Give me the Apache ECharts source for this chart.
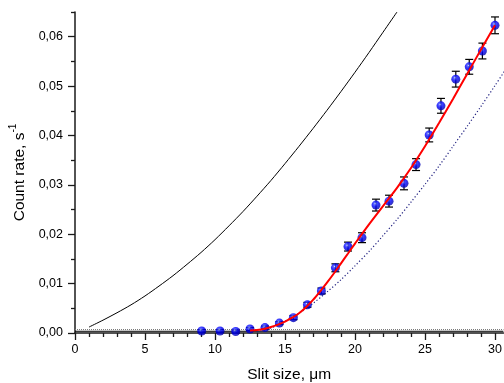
<!DOCTYPE html>
<html><head><meta charset="utf-8">
<script src="https://cdn.jsdelivr.net/npm/echarts@6/dist/echarts.min.js"></script>
<style>html,body{margin:0;padding:0;background:#fff}#c{width:504px;height:383px}</style>
</head><body><div id="c"></div>
<script>
// Measured data points (slit size, count rate) with errors
const ptX = [9.05, 10.36, 11.48, 12.5, 13.57, 14.6, 15.6, 16.6, 17.6, 18.6, 19.5, 20.5, 21.5, 22.43, 23.5, 24.36, 25.3, 26.14, 27.2, 28.16, 29.1, 30.0];
const ptY = [0.0004, 0.0004, 0.0003, 0.0008, 0.0011, 0.0020, 0.0031, 0.0057, 0.0085, 0.0132, 0.0175, 0.0193, 0.0259, 0.0267, 0.0303, 0.0341, 0.0401, 0.0460, 0.0514, 0.0539, 0.0571, 0.0623];
const ptErr = [0.0003, 0.0003, 0.0003, 0.0003, 0.0003, 0.0003, 0.0004, 0.0005, 0.0006, 0.0008, 0.0009, 0.0010, 0.0012, 0.0012, 0.0013, 0.0012, 0.0014, 0.0015, 0.0016, 0.0015, 0.0016, 0.0017];

// Red fit curve
const fitX = [12.5, 13, 13.5, 14, 14.5, 15, 15.5, 16, 16.5, 17, 17.5, 18, 18.5, 19, 19.5, 20, 21, 22, 23, 24, 25, 26, 27, 28, 29, 30];
const fitY = [0.0005, 0.0006, 0.0008, 0.0012, 0.0017, 0.0023, 0.0031, 0.0040, 0.0052, 0.0067, 0.0084, 0.0102, 0.0121, 0.0141, 0.0161, 0.0181, 0.0220, 0.0257, 0.0294, 0.0334, 0.0378, 0.0425, 0.0474, 0.0524, 0.0574, 0.0623];

// Black solid curve
const blackX = [1, 2, 3, 4, 5, 6, 7, 8, 9, 10, 11, 12, 13, 14, 15, 16, 17, 18, 19, 20, 21, 22, 23];
const blackY = [0.0012, 0.0026, 0.0041, 0.0057, 0.0075, 0.0095, 0.0116, 0.0139, 0.0163, 0.0189, 0.0217, 0.0246, 0.0277, 0.0309, 0.0343, 0.0378, 0.0414, 0.0451, 0.0489, 0.0528, 0.0568, 0.0609, 0.0650];

// Blue dotted curve
const dotX = [13, 14, 15, 16, 17, 18, 19, 20, 21, 22, 23, 24, 25, 26, 27, 28, 29, 30, 31];
const dotY = [0.0002, 0.0010, 0.0024, 0.0040, 0.0060, 0.0083, 0.0108, 0.0136, 0.0165, 0.0197, 0.0230, 0.0265, 0.0301, 0.0338, 0.0378, 0.0418, 0.0459, 0.0501, 0.0544];

// Background levels
const baseX = [0, 30.6];
const baseSolidY = 0.00035;
const baseDotY = 0.0007;

// Axis ticks
const xMajor = [0, 5, 10, 15, 20, 25, 30];
const xMinor = [1, 2, 3, 4, 6, 7, 8, 9, 11, 12, 13, 14, 16, 17, 18, 19, 21, 22, 23, 24, 26, 27, 28, 29];
const yMajor = [0, 0.01, 0.02, 0.03, 0.04, 0.05, 0.06];
const yMinor = [0.005, 0.015, 0.025, 0.035, 0.045, 0.055, 0.065];

const zip = (a, b) => a.map((v, i) => [v, b[i]]);
const FONT = 'Liberation Sans, Arial, sans-serif';
const AX = '#1a1a1a';

const chart = echarts.init(document.getElementById('c'), null, {renderer: 'canvas'});
const xBase = {type: 'value', min: 0, max: 30.6, gridIndex: 0, splitLine: {show: false}};
const yBase = {type: 'value', min: 0, max: 0.065, gridIndex: 0, splitLine: {show: false}};

chart.setOption({
  animation: false,
  backgroundColor: '#fff',
  grid: {left: 75, right: 0.6, top: 12, bottom: 50, containLabel: false, outerBoundsMode: 'none'},
  xAxis: [
    Object.assign({}, xBase, {
      position: 'bottom',
      axisLine: {show: true, lineStyle: {color: AX, width: 1.5}},
      axisTick: {show: true, inside: false, length: 7, customValues: xMajor, lineStyle: {color: AX, width: 1.3}},
      axisLabel: {customValues: xMajor, margin: 10, fontSize: 12.5, color: '#000', fontFamily: FONT},
      name: 'Slit size, \u03bcm', nameLocation: 'middle', nameGap: 34,
      nameTextStyle: {fontSize: 15.5, color: '#000', fontFamily: FONT}
    }),
    Object.assign({}, xBase, {
      position: 'bottom',
      axisLine: {show: false},
      axisTick: {show: true, inside: false, length: 4, customValues: xMinor, lineStyle: {color: AX, width: 1.3}},
      axisLabel: {show: false}
    })
  ],
  yAxis: [
    Object.assign({}, yBase, {
      position: 'left',
      axisLine: {show: true, lineStyle: {color: AX, width: 1.5}},
      axisTick: {show: true, inside: false, length: 7, customValues: yMajor, lineStyle: {color: AX, width: 1.3}},
      axisLabel: {customValues: yMajor, margin: 12, fontSize: 12.5, color: '#000', fontFamily: FONT,
        formatter: v => v.toFixed(2).replace('.', ',')},
      name: '{n|Count rate, s}{s|-1}', nameLocation: 'middle', nameGap: 42,
      nameTextStyle: {color: '#000', fontFamily: FONT,
        rich: {n: {fontSize: 15.5, color: '#000', fontFamily: FONT, verticalAlign: 'bottom', lineHeight: 20},
               s: {fontSize: 10, color: '#000', fontFamily: FONT, verticalAlign: 'top', lineHeight: 20}}}
    }),
    Object.assign({}, yBase, {
      position: 'left',
      axisLine: {show: false},
      axisTick: {show: true, inside: false, length: 4, customValues: yMinor, lineStyle: {color: AX, width: 1.3}},
      axisLabel: {show: false}
    })
  ],
  series: [
    {type: 'line', xAxisIndex: 0, yAxisIndex: 0, data: zip(baseX, baseX.map(() => baseDotY)), symbol: 'none',
      lineStyle: {color: '#777', width: 1, type: [1, 1]}, z: 2},
    {type: 'line', xAxisIndex: 0, yAxisIndex: 0, data: zip(baseX, baseX.map(() => baseSolidY)), symbol: 'none',
      lineStyle: {color: '#000', width: 1}, z: 2},
    {type: 'line', xAxisIndex: 0, yAxisIndex: 0, data: zip(blackX, blackY), symbol: 'none', smooth: 0.3,
      lineStyle: {color: '#000', width: 1}, z: 3},
    {type: 'line', xAxisIndex: 0, yAxisIndex: 0, data: zip(dotX, dotY), symbol: 'none', smooth: 0.3,
      lineStyle: {color: '#202080', width: 1.2, type: [1.2, 2.2]}, z: 3},
    {type: 'custom', xAxisIndex: 0, yAxisIndex: 0, z: 4,
      data: ptX.map((x, i) => [x, ptY[i], ptErr[i]]),
      renderItem: (params, api) => {
        const x = api.value(0), y = api.value(1), e = api.value(2);
        const top = api.coord([x, y + e]);
        const bot = api.coord([x, y - e]);
        const st = {stroke: '#000', lineWidth: 1.2};
        return {type: 'group', children: [
          {type: 'line', shape: {x1: top[0], y1: top[1], x2: bot[0], y2: bot[1]}, style: st},
          {type: 'line', shape: {x1: top[0] - 4, y1: top[1], x2: top[0] + 4, y2: top[1]}, style: st},
          {type: 'line', shape: {x1: bot[0] - 4, y1: bot[1], x2: bot[0] + 4, y2: bot[1]}, style: st}
        ]};
      }},
    {type: 'scatter', xAxisIndex: 0, yAxisIndex: 0, data: zip(ptX, ptY), symbol: 'circle', symbolSize: 9, z: 5,
      itemStyle: {color: {type: 'radial', x: 0.4, y: 0.35, r: 0.7, colorStops: [
        {offset: 0, color: '#e0e8ff'}, {offset: 0.15, color: '#4050ff'}, {offset: 0.45, color: '#0000ff'}, {offset: 1, color: '#0000a0'}]}}},
    {type: 'line', xAxisIndex: 0, yAxisIndex: 0, data: zip(fitX, fitY), symbol: 'none', smooth: 0.3,
      lineStyle: {color: '#ff0000', width: 2}, z: 6}
  ]
});
</script>
</body></html>
